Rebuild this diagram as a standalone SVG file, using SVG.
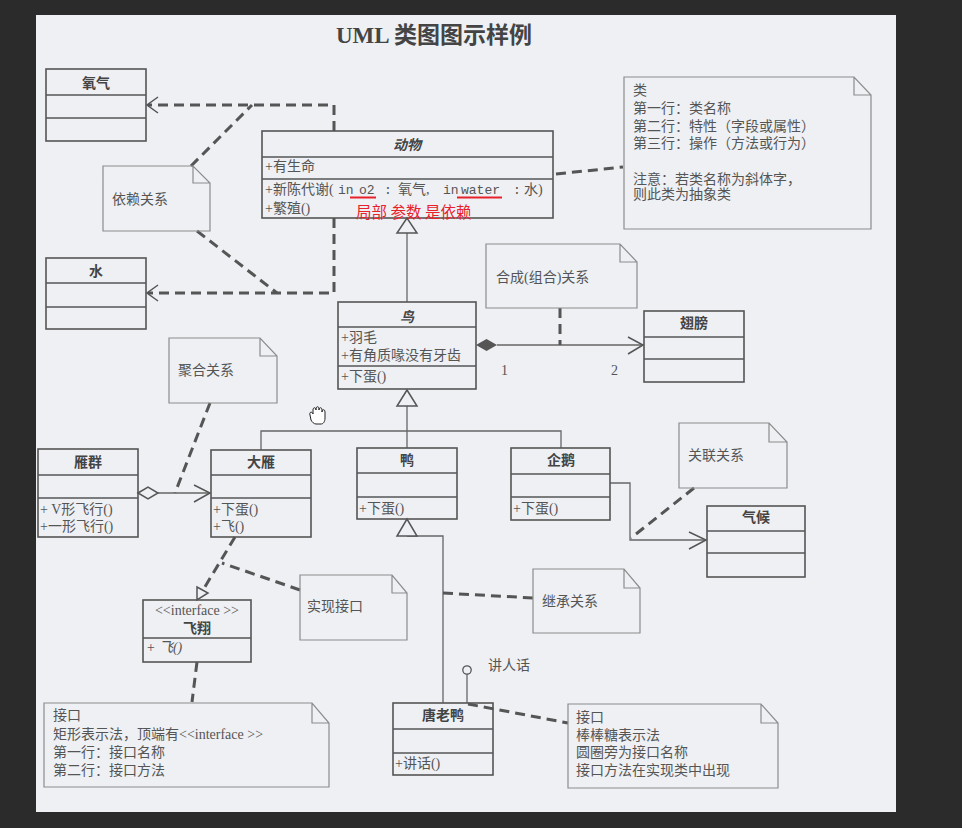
<svg xmlns="http://www.w3.org/2000/svg" width="962" height="828" viewBox="0 0 962 828">
  <style>
    .box { fill: none; stroke: #555; stroke-width: 1.6; }
    .div { stroke: #555; stroke-width: 1.4; }
    .note { fill: none; stroke: #8c8c8c; stroke-width: 1.2; }
    .dash { fill: none; stroke: #555; stroke-width: 3; stroke-dasharray: 10 6; }
    .ln { fill: none; stroke: #666; stroke-width: 1.3; }
    .head { fill: none; stroke: #555; stroke-width: 1.5; }
    .tri { fill: #eef0f4; stroke: #555; stroke-width: 1.5; }
    text { font-family: "Liberation Serif", "Noto Sans CJK SC", serif; fill: #555; font-size: 14px; }
    .name { font-weight: bold; text-anchor: middle; fill: #444; }
    .abs { font-style: italic; }
    .mono { font-family: "Liberation Mono", "Noto Sans CJK SC", monospace; font-size: 13px; }
    .red { fill: #e8222a; font-family: "Noto Sans CJK SC", sans-serif; font-size: 15.5px; }
  </style>

  <!-- backdrop and page -->
  <rect x="0" y="0" width="962" height="828" fill="#2b2b2b"/>
  <rect x="36" y="15" width="860" height="797" fill="#eef0f4"/>

  <text x="434" y="43" text-anchor="middle" style="font-size:23px;font-weight:bold;fill:#444">UML 类图图示样例</text>

  <!-- connectors -->
  <g id="connectors">
    <!-- dependencies -->
    <path class="dash" d="M334,131 V105 H148"/>
    <polyline class="head" points="158,97 147,105 158,113"/>
    <path class="dash" d="M334,218 V293 H148"/>
    <polyline class="head" points="158,285 147,293 158,301"/>
    <path class="dash" d="M191,166 L252,105"/>
    <path class="dash" d="M197,231 L277,293"/>
    <!-- class note -->
    <path class="dash" d="M556,174 L623,167"/>
    <!-- bird generalizes animal -->
    <path class="ln" d="M407,233 V302"/>
    <polygon class="tri" points="407,218 397,233 417,233"/>
    <!-- composition bird / wings -->
    <path class="ln" d="M497,345 H643"/>
    <polygon points="476,345 486.5,339 497,345 486.5,351" fill="#555"/>
    <polyline class="head" points="628,337 643,345 628,354"/>
    <path class="dash" d="M560,308 V345"/>
    <text x="501" y="375">1</text>
    <text x="611" y="375">2</text>
    <!-- goose / duck / penguin generalize bird -->
    <path class="ln" d="M407,406 V448 M261,450 V431 H561 V448"/>
    <polygon class="tri" points="407,390 397,406 417,406"/>
    <!-- aggregation -->
    <path class="ln" d="M158,493 H210"/>
    <polygon class="tri" points="138,493 148,487 158,493 148,499"/>
    <polyline class="head" points="194,485 210,493 194,502"/>
    <path class="dash" d="M210,403 L175,493"/>
    <!-- realization goose / fly -->
    <path class="dash" d="M235,537 L203,590"/>
    <polygon class="tri" points="197,587 208,593 197,600"/>
    <path class="dash" d="M300,590 L222,563"/>
    <path class="dash" d="M197,662 L192,702"/>
    <!-- Donald duck generalizes duck -->
    <path class="ln" d="M407,536 H443 V703"/>
    <polygon class="tri" points="407,519 397,536 417,536"/>
    <path class="dash" d="M443,593 L533,598"/>
    <!-- lollipop interface -->
    <path class="ln" d="M467,674 V703"/>
    <circle cx="467" cy="670" r="4.2" fill="#eef0f4" stroke="#555" stroke-width="1.3"/>
    <text x="488" y="670">讲人话</text>
    <path class="dash" d="M468,704 L568,723"/>
    <!-- association penguin / climate -->
    <path class="ln" d="M610,483 H630 V540 H706"/>
    <polyline class="head" points="689,532 706,540 689,549"/>
    <path class="dash" d="M694,488 L631,538"/>
  </g>

  <!-- classes -->
  <g id="oxygen">
    <rect class="box" x="46" y="69" width="100" height="72"/>
    <path class="div" d="M46,95 H146 M46,118 H146"/>
    <text class="name" x="96" y="88">氧气</text>
  </g>
  <g id="water">
    <rect class="box" x="46" y="258" width="100" height="71"/>
    <path class="div" d="M46,283 H146 M46,307 H146"/>
    <text class="name" x="96" y="276">水</text>
  </g>
  <g id="animal">
    <rect class="box" x="262" y="131" width="291" height="87"/>
    <path class="div" d="M262,157 H553 M262,179 H553"/>
    <text class="name abs" x="407" y="150">动物</text>
    <text x="265" y="171">+有生命</text>
    <text x="265" y="194">+新陈代谢(<tspan class="mono" x="338">in</tspan><tspan class="mono" x="359">o2</tspan><tspan class="mono" x="384">:</tspan><tspan x="398">氧气,</tspan><tspan class="mono" x="443">in</tspan><tspan class="mono" x="461">water</tspan><tspan class="mono" x="513">:</tspan><tspan x="524">水)</tspan></text>
    <text x="265" y="213">+繁殖()</text>
  </g>
  <g id="bird">
    <rect class="box" x="338" y="302" width="138" height="87"/>
    <path class="div" d="M338,327 H476 M338,366 H476"/>
    <text class="name abs" x="407" y="322">鸟</text>
    <text x="341" y="342">+羽毛</text>
    <text x="341" y="360">+有角质喙没有牙齿</text>
    <text x="341" y="381">+下蛋()</text>
  </g>
  <g id="wings">
    <rect class="box" x="644" y="311" width="100" height="71"/>
    <path class="div" d="M644,337 H744 M644,359 H744"/>
    <text class="name" x="694" y="328">翅膀</text>
  </g>
  <g id="goose-flock">
    <rect class="box" x="38" y="449" width="100" height="88"/>
    <path class="div" d="M38,475 H138 M38,498 H138"/>
    <text class="name" x="88" y="467">雁群</text>
    <text x="40" y="514">+ V形飞行()</text>
    <text x="40" y="531">+一形飞行()</text>
  </g>
  <g id="goose">
    <rect class="box" x="211" y="450" width="100" height="87"/>
    <path class="div" d="M211,475 H311 M211,498 H311"/>
    <text class="name" x="261" y="467">大雁</text>
    <text x="213" y="514">+下蛋()</text>
    <text x="213" y="531">+飞()</text>
  </g>
  <g id="duck">
    <rect class="box" x="357" y="448" width="100" height="71"/>
    <path class="div" d="M357,473 H457 M357,497 H457"/>
    <text class="name" x="407" y="465">鸭</text>
    <text x="359" y="513">+下蛋()</text>
  </g>
  <g id="penguin">
    <rect class="box" x="511" y="448" width="99" height="72"/>
    <path class="div" d="M511,474 H610 M511,497 H610"/>
    <text class="name" x="561" y="465">企鹅</text>
    <text x="513" y="513">+下蛋()</text>
  </g>
  <g id="climate">
    <rect class="box" x="707" y="506" width="98" height="71"/>
    <path class="div" d="M707,531 H805 M707,553 H805"/>
    <text class="name" x="756" y="522">气候</text>
  </g>
  <g id="fly">
    <rect class="box" x="143" y="600" width="108" height="62"/>
    <path class="div" d="M143,638 H251"/>
    <text x="197" y="615" text-anchor="middle" style="font-size:14px">&lt;&lt;interface &gt;&gt;</text>
    <text class="name" x="197" y="633">飞翔</text>
    <text class="abs" x="146" y="652">+ 飞()</text>
  </g>
  <g id="donald-duck">
    <rect class="box" x="393" y="703" width="100" height="72"/>
    <path class="div" d="M393,729 H493 M393,753 H493"/>
    <text class="name" x="443" y="720">唐老鸭</text>
    <text x="395" y="768">+讲话()</text>
  </g>

  <!-- notes -->
  <g id="note-dependency">
    <path class="note" d="M103,166 H193 L210,183 V231 H103 Z M193,166 V183 H210"/>
    <text x="112" y="204">依赖关系</text>
  </g>
  <g id="note-class">
    <path class="note" d="M624,77 H854 L871,95 V229 H624 Z M854,77 V95 H871"/>
    <text x="633" y="95">类</text>
    <text x="633" y="113">第一行：类名称</text>
    <text x="633" y="131">第二行：特性（字段或属性）</text>
    <text x="633" y="148">第三行：操作（方法或行为）</text>
    <text x="633" y="184">注意：若类名称为斜体字，</text>
    <text x="633" y="199">则此类为抽象类</text>
  </g>
  <g id="note-composition">
    <path class="note" d="M486,244 H620 L637,262 V308 H486 Z M620,244 V262 H637"/>
    <text x="496" y="282">合成(组合)关系</text>
  </g>
  <g id="note-aggregation">
    <path class="note" d="M169,338 H260 L277,356 V403 H169 Z M260,338 V356 H277"/>
    <text x="178" y="375">聚合关系</text>
  </g>
  <g id="note-association">
    <path class="note" d="M679,423 H769 L787,442 V488 H679 Z M769,423 V442 H787"/>
    <text x="688" y="460">关联关系</text>
  </g>
  <g id="note-realization">
    <path class="note" d="M300,575 H392 L407,593 V640 H300 Z M392,575 V593 H407"/>
    <text x="307" y="611">实现接口</text>
  </g>
  <g id="note-inheritance">
    <path class="note" d="M533,569 H624 L640,588 V633 H533 Z M624,569 V588 H640"/>
    <text x="542" y="606">继承关系</text>
  </g>
  <g id="note-interface">
    <path class="note" d="M44,703 H312 L329,723 V787 H44 Z M312,703 V723 H329"/>
    <text x="53" y="720">接口</text>
    <text x="53" y="739">矩形表示法，顶端有&lt;&lt;interface &gt;&gt;</text>
    <text x="53" y="757">第一行：接口名称</text>
    <text x="53" y="775">第二行：接口方法</text>
  </g>
  <g id="note-lollipop">
    <path class="note" d="M568,704 H761 L778,723 V788 H568 Z M761,704 V723 H778"/>
    <text x="576" y="722">接口</text>
    <text x="576" y="740">棒棒糖表示法</text>
    <text x="576" y="757">圆圈旁为接口名称</text>
    <text x="576" y="775">接口方法在实现类中出现</text>
  </g>

  <!-- red annotation -->
  <g id="annotation">
    <path d="M350,197.5 H376 M457,197.5 H502" stroke="#e8222a" stroke-width="2.2"/>
    <text class="red" x="356" y="217.5">局部 参数 是依赖</text>
  </g>

  <!-- pointer cursor -->
  <g id="cursor" transform="translate(307,407)">
    <path d="M3,8 C2,5 5,4 6,7 L6,3 C6,0 9,0 9,3 L9,2 C9,-1 12,-1 12,2 L12,3 C12,0 15,0 15,3 L15,5 C15,2 18,2 18,5 L18,11 C18,15 16,17 14,17 L9,17 C7,17 5,15 4,13 Z" fill="#fff" stroke="#222" stroke-width="1"/>
  </g>
</svg>
